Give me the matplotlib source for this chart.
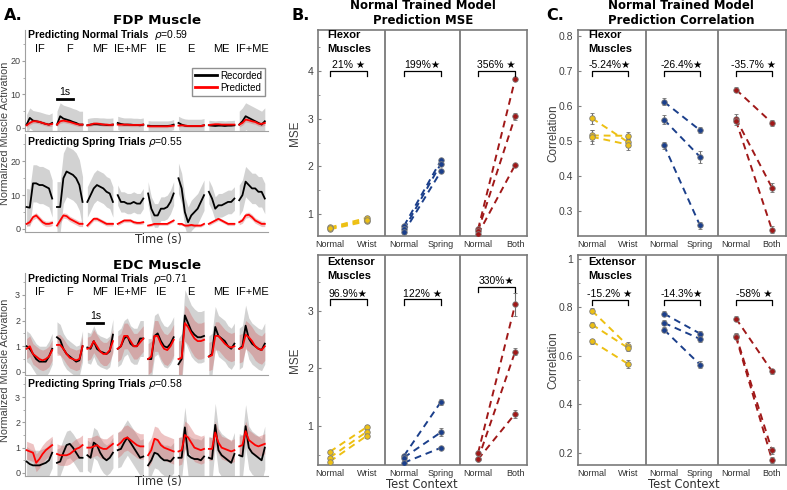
import matplotlib.pyplot as plt
import numpy as np
from matplotlib.ticker import MultipleLocator, FuncFormatter

plt.rcParams['font.family'] = ['Liberation Sans', 'DejaVu Sans']

# ---------------- Panel A data: 9 samples across each 1.6 s movement ----------------
movements = ['IF', 'F', 'MF', 'IE+MF', 'IE', 'E', 'ME', 'IF+ME']

fdp_normal_rec = [
    [1.0, 3.0, 2.2, 2.0, 1.8, 1.5, 1.2, 1.0, 1.5],
    [1.0, 3.5, 2.8, 2.5, 2.2, 1.8, 1.5, 1.0, 1.0],
    [0.8, 1.0, 1.1, 1.1, 1.0, 1.0, 0.9, 0.9, 1.0],
    [1.5, 1.2, 1.0, 1.0, 1.0, 0.9, 0.9, 0.8, 1.0],
    [0.7, 0.6, 0.6, 0.6, 0.6, 0.6, 0.6, 0.7, 1.0],
    [1.5, 1.0, 0.7, 0.6, 0.6, 0.6, 0.6, 0.6, 0.8],
    [0.8, 0.7, 0.6, 0.7, 0.7, 0.6, 0.7, 0.7, 0.8],
    [1.0, 2.0, 3.5, 3.0, 2.5, 2.0, 1.5, 1.0, 2.0],
]
fdp_normal_pred = [
    [0.8, 1.5, 2.0, 2.0, 1.8, 1.5, 1.2, 1.0, 1.2],
    [1.0, 2.0, 2.2, 2.0, 1.8, 1.5, 1.2, 1.0, 1.0],
    [0.8, 1.0, 1.3, 1.3, 1.2, 1.0, 1.0, 0.9, 1.0],
    [1.0, 1.0, 1.0, 1.0, 0.9, 0.9, 0.9, 0.9, 1.0],
    [0.5, 0.5, 0.5, 0.5, 0.5, 0.5, 0.5, 0.6, 0.7],
    [0.7, 0.8, 0.7, 0.6, 0.6, 0.6, 0.6, 0.6, 0.8],
    [0.9, 1.0, 1.1, 1.1, 1.0, 1.0, 1.0, 1.0, 1.0],
    [1.0, 1.5, 2.5, 2.3, 2.0, 1.8, 1.3, 1.2, 1.5],
]
fdp_normal_rec_sd = [3.0, 4.0, 2.0, 2.0, 1.5, 2.0, 1.5, 4.0]
fdp_normal_pred_sd = [0.6, 0.6, 0.5, 0.5, 0.4, 0.4, 0.4, 0.7]

fdp_spring_rec = [
    [6.5, 6.3, 13.5, 13.5, 13.0, 13.0, 12.5, 12.0, 9.0],
    [6.5, 6.5, 15.0, 17.0, 16.5, 16.0, 15.0, 13.0, 8.0],
    [8.0, 10.0, 12.0, 13.0, 12.5, 12.0, 11.0, 10.5, 8.0],
    [10.0, 8.0, 8.0, 7.5, 7.5, 8.0, 7.5, 7.5, 9.0],
    [10.5, 6.0, 4.0, 4.0, 6.0, 6.0, 6.5, 8.0, 10.5],
    [15.0, 12.0, 5.0, 2.0, 4.0, 5.0, 6.0, 8.0, 10.0],
    [11.0, 9.0, 6.0, 7.0, 7.0, 7.5, 8.0, 8.0, 9.0],
    [8.5, 10.0, 14.0, 13.0, 12.0, 12.0, 11.0, 11.0, 9.0],
]
fdp_spring_pred = [
    [1.5, 2.0, 3.5, 4.0, 3.0, 2.0, 1.5, 1.5, 1.8],
    [1.0, 2.5, 4.0, 3.8, 3.0, 2.5, 2.0, 1.5, 1.5],
    [1.0, 2.0, 3.0, 3.0, 2.5, 2.0, 1.5, 1.5, 1.5],
    [1.5, 2.0, 2.5, 2.5, 2.5, 2.0, 1.8, 1.8, 2.0],
    [1.0, 1.2, 1.5, 1.5, 1.5, 1.5, 1.5, 2.0, 2.5],
    [1.5, 1.5, 1.0, 1.0, 1.2, 1.0, 1.0, 1.0, 1.5],
    [1.5, 2.0, 2.5, 3.0, 2.5, 2.0, 1.5, 1.5, 1.5],
    [2.0, 2.5, 4.0, 4.2, 3.5, 2.5, 2.0, 1.5, 1.5],
]
fdp_spring_rec_sd = [5.5, 7.5, 4.5, 3.0, 3.5, 4.5, 3.5, 4.5]
fdp_spring_pred_sd = [0.8, 0.8, 0.6, 0.5, 0.4, 0.4, 0.5, 0.8]

edc_normal_rec = [
    [1.0, 0.9, 0.7, 0.5, 0.4, 0.4, 0.4, 0.6, 0.9],
    [1.35, 1.25, 0.9, 0.7, 0.6, 0.5, 0.4, 0.45, 1.0],
    [0.95, 0.9, 1.2, 0.9, 0.8, 0.75, 0.7, 0.8, 1.45],
    [0.9, 1.0, 1.3, 1.4, 1.1, 1.0, 1.0, 1.3, 1.3],
    [0.5, 0.5, 1.4, 1.5, 1.2, 1.0, 0.95, 1.1, 1.35],
    [0.3, 0.5, 2.2, 1.9, 1.6, 1.45, 1.35, 1.35, 1.4],
    [0.6, 0.7, 1.75, 1.4, 1.3, 1.2, 1.0, 0.9, 1.1],
    [0.9, 1.0, 1.8, 1.3, 1.1, 1.0, 0.9, 0.85, 1.1],
]
edc_normal_pred = [
    [0.9, 1.0, 0.7, 0.6, 0.5, 0.45, 0.5, 0.6, 0.85],
    [1.05, 1.05, 0.9, 0.7, 0.55, 0.5, 0.45, 0.5, 1.0],
    [0.9, 0.95, 1.2, 1.0, 0.8, 0.7, 0.7, 0.85, 1.2],
    [0.9, 1.0, 1.4, 1.4, 1.2, 1.0, 1.0, 1.15, 1.3],
    [0.5, 0.6, 1.4, 1.4, 1.1, 0.9, 0.85, 1.0, 1.25],
    [0.5, 0.55, 1.9, 1.75, 1.5, 1.3, 1.2, 1.2, 1.25],
    [0.6, 0.65, 1.4, 1.4, 1.25, 1.1, 1.0, 0.95, 1.0],
    [0.9, 0.95, 1.45, 1.35, 1.2, 1.0, 0.9, 0.85, 1.0],
]
edc_normal_rec_sd = [0.6, 0.6, 0.6, 0.7, 0.8, 1.0, 0.8, 0.8]
edc_normal_pred_sd = [0.4, 0.4, 0.45, 0.5, 0.6, 0.7, 0.55, 0.55]

edc_spring_rec = [
    [0.45, 0.35, 0.3, 0.3, 0.3, 0.35, 0.4, 0.5, 0.8],
    [0.4, 0.45, 0.8, 1.1, 1.15, 1.0, 0.8, 0.6, 0.6],
    [0.7, 0.6, 1.2, 1.1, 0.8, 0.6, 0.5, 0.6, 0.8],
    [0.9, 0.95, 1.2, 1.4, 1.2, 1.0, 0.8, 0.6, 0.65],
    [0.3, 0.5, 0.8, 0.75, 0.6, 0.5, 0.5, 0.45, 0.6],
    [0.6, 0.6, 1.8, 0.7, 0.6, 0.55, 0.55, 0.5, 0.65],
    [0.6, 0.55, 1.9, 0.9, 0.7, 0.6, 0.5, 0.4, 0.75],
    [0.7, 0.65, 1.85, 1.0, 0.8, 0.7, 0.6, 0.5, 1.0],
]
edc_spring_pred = [
    [0.9, 0.85, 0.8, 0.4, 0.55, 0.75, 0.9, 1.0, 1.1],
    [0.75, 0.7, 0.7, 0.7, 0.75, 0.85, 0.95, 1.0, 1.1],
    [1.0, 1.0, 1.05, 1.1, 1.0, 0.95, 0.95, 1.05, 1.15],
    [1.1, 1.2, 1.35, 1.4, 1.3, 1.2, 1.1, 1.05, 1.05],
    [0.7, 0.9, 1.35, 1.3, 1.1, 1.0, 0.95, 0.9, 0.85],
    [0.85, 0.9, 1.5, 1.4, 1.2, 1.0, 0.95, 0.9, 0.95],
    [0.95, 0.95, 1.6, 1.2, 1.0, 0.95, 0.9, 0.85, 0.9],
    [1.05, 1.1, 1.65, 1.3, 1.2, 1.1, 1.05, 1.1, 1.15],
]
edc_spring_rec_sd = [0.6, 0.55, 0.6, 0.7, 0.6, 0.8, 0.85, 0.85]
edc_spring_pred_sd = [0.35, 0.4, 0.4, 0.5, 0.5, 0.55, 0.45, 0.4]

rho_values = ['0.59', '0.55', '0.71', '0.58']

# ---------------- Panels B / C data ----------------
contexts = ['Normal', 'Wrist', 'Normal', 'Spring', 'Normal', 'Both']
group_colors = ['#EDC013', '#1B3F8B', '#A01818']

mse_flex_normal = [[0.72, 0.68, 0.70], [0.75, 0.68, 0.62], [0.68, 0.65, 0.58]]
mse_flex_test = [[0.92, 0.85, 0.88], [2.13, 2.06, 1.90], [3.83, 3.05, 2.03]]
mse_flex_normal_err = [[0.03, 0.03, 0.03], [0.03, 0.03, 0.03], [0.03, 0.03, 0.03]]
mse_flex_test_err = [[0.03, 0.03, 0.03], [0.05, 0.04, 0.03], [0.04, 0.07, 0.03]]
mse_flex_pct = ['21% ★', '199%★', '356% ★']

mse_ext_normal = [[0.55, 0.45, 0.38], [0.48, 0.45, 0.36], [0.53, 0.42, 0.42]]
mse_ext_test = [[0.98, 0.90, 0.83], [1.42, 0.89, 0.62], [3.11, 2.29, 1.21]]
mse_ext_normal_err = [[0.03, 0.03, 0.03], [0.03, 0.03, 0.03], [0.03, 0.03, 0.03]]
mse_ext_test_err = [[0.04, 0.04, 0.04], [0.05, 0.07, 0.03], [0.20, 0.06, 0.07]]
mse_ext_pct = ['96.9%★', '122% ★', '330%★']

corr_flex_normal = [[0.565, 0.516, 0.512], [0.612, 0.561, 0.488], [0.647, 0.564, 0.558]]
corr_flex_test = [[0.497, 0.515, 0.490], [0.531, 0.455, 0.259], [0.552, 0.367, 0.247]]
corr_flex_normal_err = [[0.015, 0.015, 0.02], [0.01, 0.012, 0.01], [0.007, 0.012, 0.012]]
corr_flex_test_err = [[0.015, 0.01, 0.015], [0.008, 0.018, 0.01], [0.008, 0.012, 0.01]]
corr_flex_pct = ['-5.24%★', '-26.4%★', '-35.7% ★']

corr_ext_normal = [[0.786, 0.729, 0.660], [0.774, 0.736, 0.708], [0.754, 0.684, 0.678]]
corr_ext_test = [[0.642, 0.633, 0.567], [0.692, 0.670, 0.564], [0.537, 0.210, 0.172]]
corr_ext_normal_err = [[0.01, 0.01, 0.01], [0.01, 0.01, 0.01], [0.01, 0.01, 0.01]]
corr_ext_test_err = [[0.015, 0.012, 0.015], [0.012, 0.012, 0.015], [0.01, 0.015, 0.012]]
corr_ext_pct = ['-15.2% ★', '-14.3%★', '-58% ★']

# ---------------- figure ----------------
W, H = 787, 490
fig = plt.figure(figsize=(7.87, 4.9), dpi=100)


def box(x0, y0, x1, y1):
    return [x0 / W, 1 - y1 / H, (x1 - x0) / W, (y1 - y0) / H]


def ftxt(x, y, s, **kw):
    kw.setdefault('ha', 'center')
    kw.setdefault('va', 'center')
    return fig.text(x / W, 1 - y / H, s, **kw)


seg_len, seg_period = 1.6, 1.9
seg_start = [0.1 + i * seg_period for i in range(8)]
t = np.linspace(0, seg_len, 9)


def trace_axes(rect, rec, pred, rec_sd, pred_sd, ylim, major, minor):
    ax = fig.add_axes(rect)
    for i in range(8):
        x = seg_start[i] + t
        r = np.array(rec[i])
        p = np.array(pred[i])
        ax.fill_between(x, r - rec_sd[i], r + rec_sd[i], color='#d2d2d2', lw=0, zorder=1)
        ax.fill_between(x, p - pred_sd[i], p + pred_sd[i], color='#d46a6a', alpha=0.4, lw=0, zorder=2)
        ax.plot(x, r, color='black', lw=1.3, zorder=3)
        ax.plot(x, p, color='red', lw=1.3, zorder=4)
    ax.set_xlim(0, 15.2)
    ax.set_ylim(*ylim)
    ax.set_xticks([])
    ax.yaxis.set_major_locator(MultipleLocator(major))
    ax.yaxis.set_minor_locator(MultipleLocator(minor))
    ax.tick_params(axis='y', which='both', labelsize=6.5, labelcolor='#404040', color='#a0a0a0',
                   length=2, pad=1.5)
    ax.tick_params(axis='y', which='minor', length=1.5)
    for s in ('top', 'right'):
        ax.spines[s].set_visible(False)
    for s in ('left', 'bottom'):
        ax.spines[s].set_color('#a0a0a0')
        ax.spines[s].set_linewidth(0.8)
    ax.set_facecolor('none')
    return ax


ax1 = trace_axes(box(25, 30, 268, 131), fdp_normal_rec, fdp_normal_pred,
                 fdp_normal_rec_sd, fdp_normal_pred_sd, (-0.9, 29.2), 10, 5)
ax2 = trace_axes(box(25, 134, 268, 232), fdp_spring_rec, fdp_spring_pred,
                 fdp_spring_rec_sd, fdp_spring_pred_sd, (-0.9, 28.1), 10, 5)
ax3 = trace_axes(box(25, 273, 268, 375), edc_normal_rec, edc_normal_pred,
                 edc_normal_rec_sd, edc_normal_pred_sd, (-0.12, 3.85), 1, 0.5)
ax4 = trace_axes(box(25, 377, 268, 476), edc_spring_rec, edc_spring_pred,
                 edc_spring_rec_sd, edc_spring_pred_sd, (-0.12, 3.79), 1, 0.5)

for ax, ylab in ((ax1, 23.6), (ax3, 3.1)):
    for i, m in enumerate(movements):
        ax.text(seg_start[i] + seg_len / 2, ylab, m, ha='center', va='center', fontsize=8)

# 1 s scale bars
ax1.plot([seg_start[1], seg_start[1] + 1], [8.7, 8.7], color='black', lw=2)
ax1.text(seg_start[1] + 0.5, 9.3, '1s', ha='center', va='bottom', fontsize=7.5)
ax3.plot([seg_start[2], seg_start[2] + 1], [1.9, 1.9], color='black', lw=2)
ax3.text(seg_start[2] + 0.5, 1.97, '1s', ha='center', va='bottom', fontsize=7.5)

# legend
leg_lines = [plt.Line2D([], [], color='black', lw=2), plt.Line2D([], [], color='red', lw=2)]
fig.legend(leg_lines, ['Recorded', 'Predicted'], loc='upper right',
           bbox_to_anchor=(270 / W, 1 - 63 / H), fontsize=7, handlelength=2.3,
           handletextpad=0.3, borderpad=0.3, labelspacing=0.2, fancybox=False,
           edgecolor='#909090', framealpha=1)

# panel A texts
ftxt(13, 16, 'A.', fontsize=11.5, fontweight='bold', family='DejaVu Sans')
ftxt(157, 20, 'FDP Muscle', fontsize=9.7, fontweight='bold', family='DejaVu Sans')
ftxt(157, 265, 'EDC Muscle', fontsize=9.7, fontweight='bold', family='DejaVu Sans')
ftxt(28, 35, 'Predicting Normal Trials', ha='left', fontsize=7.5, fontweight='bold')
ftxt(154, 35, r'$\rho$=' + rho_values[0], ha='left', fontsize=7.5)
ftxt(28, 142, 'Predicting Spring Trials', ha='left', fontsize=7.5, fontweight='bold')
ftxt(148, 142, r'$\rho$=' + rho_values[1], ha='left', fontsize=7.5)
ftxt(28, 279, 'Predicting Normal Trials', ha='left', fontsize=7.5, fontweight='bold')
ftxt(153, 279, r'$\rho$=' + rho_values[2], ha='left', fontsize=7.5)
ftxt(28, 384, 'Predicting Spring Trials', ha='left', fontsize=7.5, fontweight='bold')
ftxt(148, 384, r'$\rho$=' + rho_values[3], ha='left', fontsize=7.5)
ftxt(5, 133, 'Normalized Muscle Activation', rotation=90, fontsize=7.8, color='#404040')
ftxt(5, 370, 'Normalized Muscle Activation', rotation=90, fontsize=7.8, color='#404040')
ftxt(158, 239, 'Time (s)', fontsize=8.3, family='DejaVu Sans', color='#303030')
ftxt(158, 481, 'Time (s)', fontsize=8.3, family='DejaVu Sans', color='#303030')


def context_axes(rect, xlim, normal, test, nerr, terr, pct, bracket_y, ylim, major, minor):
    ax = fig.add_axes(rect)
    span = ylim[1] - ylim[0]
    h = 0.025 * span
    for g in range(3):
        xn, xt = 2 * g + 1, 2 * g + 2
        col = group_colors[g]
        for k in range(3):
            ax.plot([xn, xt], [normal[g][k], test[g][k]], color=col, lw=1.4,
                    ls=(0, (3.5, 2.5)), zorder=2)
        for xs, ys, es in ((xn, normal[g], nerr[g]), (xt, test[g], terr[g])):
            ax.errorbar([xs] * 3, ys, yerr=es, fmt='o', ms=4, mfc=col, mec='#808080',
                        mew=0.6, ecolor='#707070', elinewidth=0.8, capsize=1.5, zorder=3)
        by = bracket_y[g]
        ax.plot([xn, xn, xt, xt], [by - h, by, by, by - h], color='black', lw=0.9, zorder=4)
        ax.text((xn + xt) / 2, by + 0.004 * span, pct[g], ha='center', va='bottom', fontsize=7.5)
    for xd in (2.5, 4.5):
        ax.axvline(xd, color='#7a7a7a', lw=1.3)
    ax.set_xlim(*xlim)
    ax.set_ylim(*ylim)
    ax.set_xticks(range(1, 7))
    ax.set_xticklabels(contexts)
    ax.tick_params(axis='x', length=0, labelsize=6.5, pad=3, labelcolor='#303030')
    ax.yaxis.set_major_locator(MultipleLocator(major))
    if minor:
        ax.yaxis.set_minor_locator(MultipleLocator(minor))
    ax.yaxis.set_major_formatter(FuncFormatter(lambda v, p: '%g' % round(v, 3)))
    ax.tick_params(axis='y', which='both', direction='in', labelsize=7.5,
                   labelcolor='#404040', color='#808080', length=2.5)
    ax.tick_params(axis='y', which='minor', length=1.5)
    for s in ax.spines.values():
        s.set_color('#7a7a7a')
        s.set_linewidth(1.2)
    return ax


xlim_b = (0.68, 6.32)
xlim_c = (0.61, 6.39)
context_axes(box(318, 30, 527, 236), xlim_b, mse_flex_normal, mse_flex_test,
             mse_flex_normal_err, mse_flex_test_err, mse_flex_pct, [4.0, 4.0, 4.0],
             (0.54, 4.86), 1, 0.5)
context_axes(box(318, 255, 527, 465), xlim_b, mse_ext_normal, mse_ext_test,
             mse_ext_normal_err, mse_ext_test_err, mse_ext_pct, [3.2, 3.2, 3.42],
             (0.32, 3.97), 1, 0.5)
context_axes(box(578, 30, 786, 236), xlim_c, corr_flex_normal, corr_flex_test,
             corr_flex_normal_err, corr_flex_test_err, corr_flex_pct, [0.7, 0.7, 0.7],
             (0.229, 0.817), 0.1, None)
context_axes(box(578, 255, 786, 465), xlim_c, corr_ext_normal, corr_ext_test,
             corr_ext_normal_err, corr_ext_test_err, corr_ext_pct, [0.83, 0.83, 0.83],
             (0.15, 1.016), 0.2, 0.1)

# panel B / C texts
ftxt(301, 15, 'B.', fontsize=11.5, fontweight='bold', family='DejaVu Sans')
ftxt(555, 15, 'C.', fontsize=11.5, fontweight='bold', family='DejaVu Sans')
ftxt(423, 13, 'Normal Trained Model\nPrediction MSE', fontsize=8.5, fontweight='bold',
     family='DejaVu Sans', linespacing=1.25)
ftxt(681, 13, 'Normal Trained Model\nPrediction Correlation', fontsize=8.5, fontweight='bold',
     family='DejaVu Sans', linespacing=1.25)
for x0 in (327, 588):
    ftxt(x0, 30, 'Flexor\nMuscles', ha='left', va='top', fontsize=8, fontweight='bold', linespacing=1.55)
    ftxt(x0, 257, 'Extensor\nMuscles', ha='left', va='top', fontsize=8, fontweight='bold', linespacing=1.45)
ftxt(295, 133, 'MSE', rotation=90, fontsize=8.5, color='#404040')
ftxt(295, 360, 'MSE', rotation=90, fontsize=8.5, color='#404040')
ftxt(553, 133, 'Correlation', rotation=90, fontsize=8.5, color='#404040')
ftxt(553, 360, 'Correlation', rotation=90, fontsize=8.5, color='#404040')
ftxt(422, 484, 'Test Context', fontsize=8.3, family='DejaVu Sans', color='#303030')
ftxt(684, 484, 'Test Context', fontsize=8.3, family='DejaVu Sans', color='#303030')

fig.savefig('out.png', dpi=100)
